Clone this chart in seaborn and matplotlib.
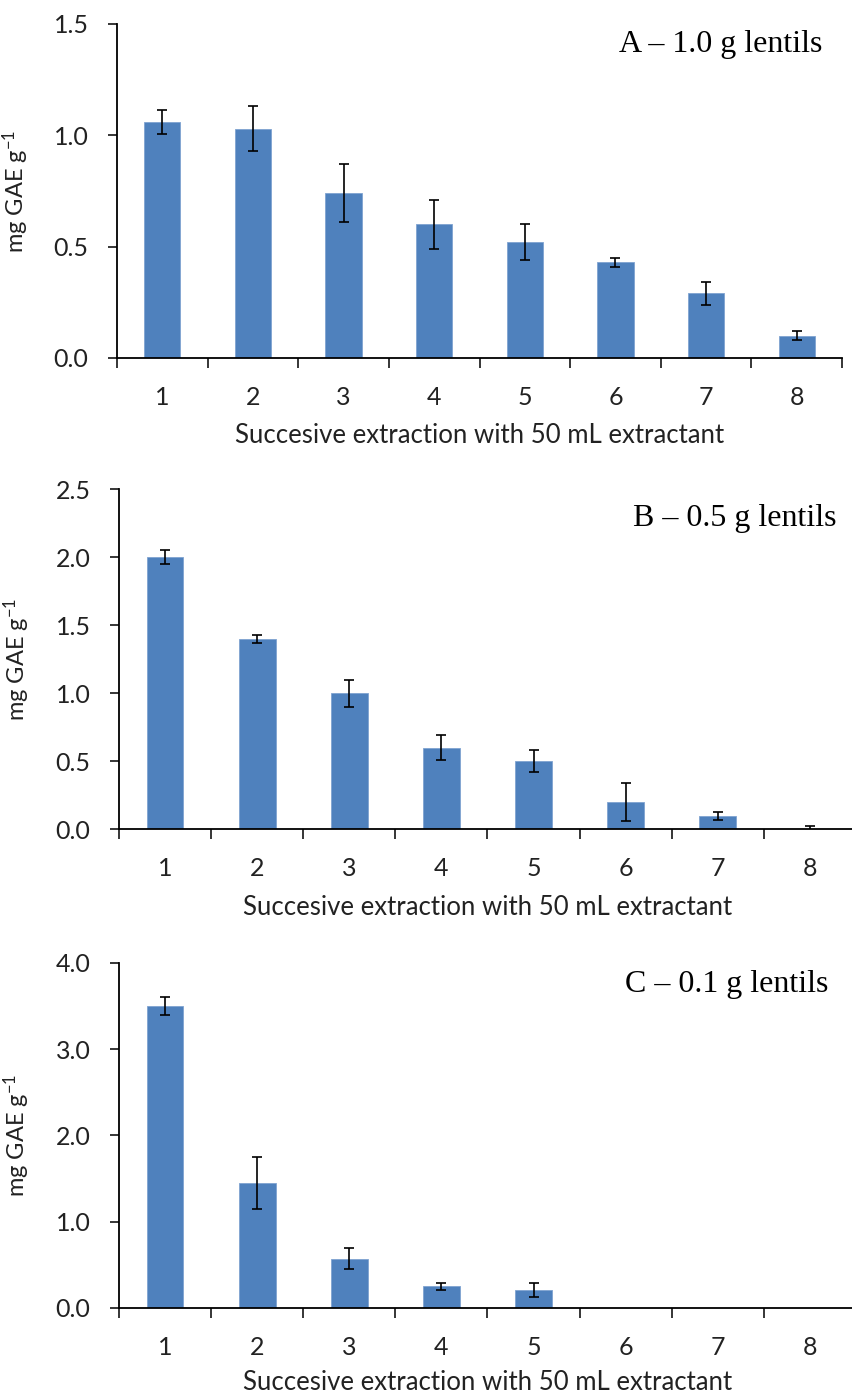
import numpy as np
import matplotlib
matplotlib.use("Agg")
import matplotlib.pyplot as plt
import pandas as pd
import seaborn as sns

# extraction number
steps = ["1", "2", "3", "4", "5", "6", "7", "8"]

# A - 1.0 g lentils
a_vals = [1.06, 1.03, 0.74, 0.60, 0.52, 0.43, 0.29, 0.10]
a_err = [0.055, 0.10, 0.13, 0.11, 0.08, 0.02, 0.05, 0.02]

# B - 0.5 g lentils
b_vals = [2.00, 1.40, 1.00, 0.60, 0.50, 0.20, 0.10, 0.005]
b_err = [0.05, 0.03, 0.10, 0.09, 0.08, 0.14, 0.03, 0.02]

# C - 0.1 g lentils
c_vals = [3.50, 1.45, 0.57, 0.25, 0.21, 0.0, 0.0, 0.0]
c_err = [0.10, 0.30, 0.12, 0.04, 0.08, 0.0, 0.0, 0.0]

panels = [
    ("A \u2013 1.0 g lentils", a_vals, a_err, [0, 0.5, 1.0, 1.5]),
    ("B \u2013 0.5 g lentils", b_vals, b_err, [0, 0.5, 1.0, 1.5, 2.0, 2.5]),
    ("C \u2013 0.1 g lentils", c_vals, c_err, [0, 1, 2, 3, 4]),
]

# layout in figure fractions (left, bottom, width, height)
boxes = [
    [0.1372, 0.7432, 0.8499, 0.2396],
    [0.1395, 0.4051, 0.8640, 0.2439],
    [0.1395, 0.0617, 0.8640, 0.2475],
]
label_pos = [(0.9637, 0.9629), (0.9812, 0.6227), (0.9707, 0.2886)]
xlab_y = [-0.195, -0.194, -0.180]

sns.set_theme(style="ticks")
plt.rcParams["font.family"] = ["Lato", "DejaVu Sans"]
plt.rcParams["mathtext.default"] = "regular"

fig = plt.figure(figsize=(8.53, 13.94), dpi=100)
bar_color = "#4F81BD"

for i, (title, vals, errs, yticks) in enumerate(panels):
    ax = fig.add_axes(boxes[i])
    df = pd.DataFrame({"step": steps, "value": vals, "err": errs})
    sns.barplot(data=df, x="step", y="value", ax=ax, color=bar_color,
                width=0.4, errorbar=None, saturation=1,
                edgecolor="#7FA3D1", linewidth=0.6)
    pos = np.arange(len(steps))
    mask = df["err"] > 0
    ax.errorbar(pos[mask], df["value"][mask], yerr=df["err"][mask], fmt="none",
                ecolor="black", elinewidth=1.2, capsize=3.5, capthick=1.2)

    ax.set_xlim(-0.5, len(steps) - 0.5)
    ax.set_ylim(0, yticks[-1])
    ax.set_yticks(yticks)
    ax.set_yticklabels([f"{t:.1f}" for t in yticks])
    ax.set_xticks(np.arange(-0.5, len(steps), 1), minor=True)
    ax.tick_params(axis="x", which="major", length=0, pad=20, labelsize=18)
    ax.tick_params(axis="x", which="minor", length=7, width=1.3, direction="out")
    ax.tick_params(axis="y", length=6.5, width=1.3, pad=14, labelsize=18,
                   direction="out")
    for t in ax.get_xticklabels() + ax.get_yticklabels():
        t.set_color("#222222")

    sns.despine(ax=ax)
    for s in ["left", "bottom"]:
        ax.spines[s].set_linewidth(1.3)
        ax.spines[s].set_color("black")

    ax.set_xlabel("Succesive extraction with 50 mL extractant", fontsize=18.5,
                  color="#222222")
    ax.xaxis.set_label_coords(0.5, xlab_y[i])
    ax.set_ylabel("mg GAE g$^{-1}$", fontsize=17, color="#222222")
    ax.yaxis.set_label_coords(-0.118, 0.5)

    fig.text(label_pos[i][0], label_pos[i][1], title, ha="right", va="baseline",
             fontsize=23, family="Liberation Serif", color="black")

fig.savefig("out.png", dpi=100, facecolor="white")
